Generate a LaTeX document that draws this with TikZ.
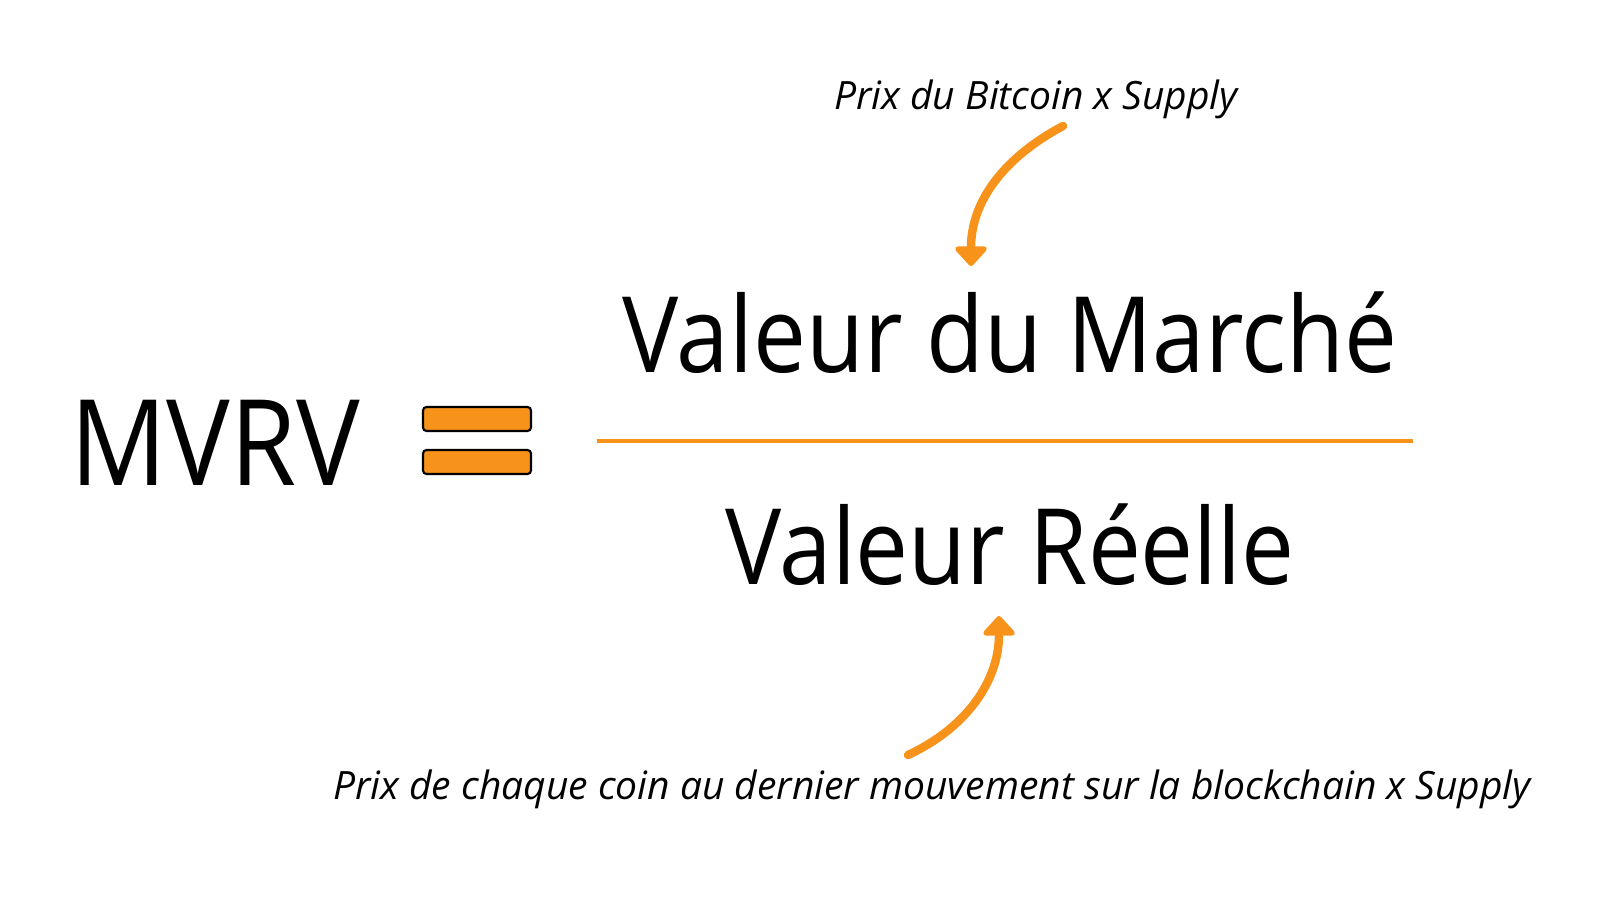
\documentclass[tikz,border=0pt]{standalone}
\usepackage{fontspec}
\setmainfont{Open Sans}[FakeStretch=0.895]
\newfontfamily\notefont{Open Sans}
\usetikzlibrary{arrows.meta}
\definecolor{btcorange}{HTML}{F7931A}
\tikzset{
  bigterm/.style={font=\fontsize{30}{36}\selectfont,inner sep=0pt,anchor=base},
  note/.style={font=\notefont\fontsize{11.1}{14}\selectfont\itshape,inner sep=0pt,anchor=base},
  eqbar/.style={draw=black,line width=0.6pt,fill=btcorange,rounded corners=1pt},
  bend arrow/.style={btcorange,line width=2.4pt,line cap=round,-{Triangle[width=10.5pt,length=6pt,round]}}
}
\begin{document}
\begin{tikzpicture}[x=1cm,y=1cm]
  \useasboundingbox (0,0) rectangle (16,9);
  \node[bigterm,font=\fontsize{34}{40}\selectfont] (mvrv) at (2.15,4.15) {MVRV};
  \draw[eqbar] (4.23,4.69) rectangle (5.31,4.93);
  \draw[eqbar] (4.23,4.26) rectangle (5.31,4.50);
  \coordinate (fracL) at (5.97,4.59);
  \coordinate (fracR) at (14.13,4.59);
  \draw[btcorange,line width=0.9pt] (fracL) -- (fracR);
  \node[bigterm] (marche) at (10.10,5.28) {Valeur du Marché};
  \node[bigterm] (reelle) at (10.10,3.16) {Valeur Réelle};
  \node[note] (bitcoin) at (10.36,7.90) {Prix du Bitcoin x Supply};
  \node[note] (chaine) at (9.32,1.01) {Prix de chaque coin au dernier mouvement sur la blockchain x Supply};
  \coordinate (topstart) at (10.63,7.74);
  \coordinate (topend) at (9.71,6.34);
  \coordinate (botstart) at (9.08,1.45);
  \coordinate (botend) at (9.99,2.84);
  \draw[bend arrow] (topstart) to[out=208,in=90] (topend);
  \draw[bend arrow] (botstart) to[out=25,in=270] (botend);
\end{tikzpicture}
\end{document}
